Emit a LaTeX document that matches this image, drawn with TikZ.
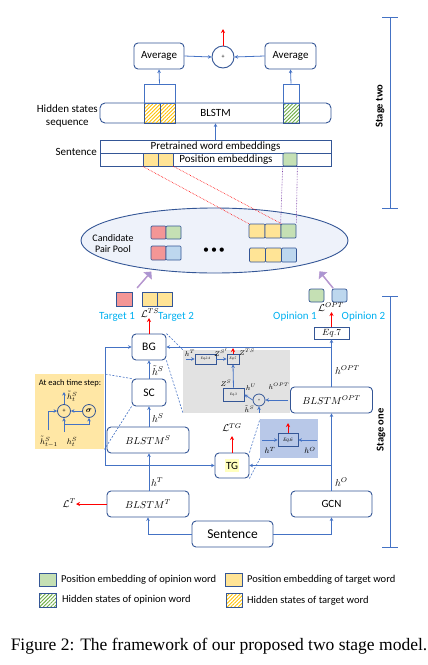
\documentclass[tikz,border=0pt]{standalone}
\usepackage{amsmath}
\usepackage{fontspec}
\setmainfont{Carlito}
\newfontfamily\capfont{Liberation Serif}
\usetikzlibrary{arrows.meta,patterns.meta,shapes.geometric,shapes.arrows}
\definecolor{bdr}{RGB}{52,86,150}
\definecolor{arr}{RGB}{68,114,196}
\definecolor{ylw}{RGB}{255,228,150}
\definecolor{grn}{RGB}{197,224,180}
\definecolor{pnk}{RGB}{244,150,150}
\definecolor{blc}{RGB}{189,215,238}
\definecolor{cyn}{RGB}{0,176,240}
\definecolor{gryb}{RGB}{226,226,226}
\definecolor{blb}{RGB}{184,200,232}
\definecolor{ylb}{RGB}{255,231,165}
\definecolor{hatY}{RGB}{255,192,0}
\definecolor{hatG}{RGB}{112,173,71}
\definecolor{purp}{RGB}{170,150,210}
\definecolor{purpd}{RGB}{112,48,160}
\definecolor{poolf}{RGB}{238,242,250}
\definecolor{tgf}{RGB}{255,255,190}
\begin{document}
\begin{tikzpicture}[x=1pt,y=-1pt,
  box/.style={draw=bdr,line width=0.9pt,rounded corners=4pt,fill=white,inner sep=0pt,font=\fontsize{11}{13}\selectfont},
  mbox/.style={box,font=\fontsize{10}{12}\selectfont},
  cellbase/.style={draw=bdr,line width=0.7pt,inner sep=0pt},
  ycell/.style={cellbase,fill=ylw},
  gcell/.style={cellbase,fill=grn},
  pcell/.style={cellbase,fill=pnk},
  bcell/.style={cellbase,fill=blc},
  hycell/.style={cellbase,pattern={Lines[angle=45,distance=2.6pt,line width=0.9pt]},pattern color=hatY},
  hgcell/.style={cellbase,pattern={Lines[angle=45,distance=2.6pt,line width=0.9pt]},pattern color=hatG},
  ar/.style={draw=arr,line width=0.8pt,-{Stealth[length=3.5pt,width=3.5pt]}},
  ln/.style={draw=arr,line width=0.8pt},
  rar/.style={draw=red,line width=1pt,-{Stealth[length=4pt,width=4pt]}},
  dsh/.style={draw=arr,line width=0.6pt,dash pattern=on 2pt off 1.5pt},
  lbl/.style={inner sep=0pt,font=\fontsize{10}{11}\selectfont},
  slbl/.style={inner sep=0pt,font=\fontsize{7.5}{8.5}\selectfont},
  eqb/.style={draw=bdr,line width=0.8pt,inner sep=0pt,font=\capfont\itshape\fontsize{3.5}{4}\selectfont},
  cyl/.style={inner sep=0pt,text=cyn,font=\fontsize{11}{13}\selectfont},
  fat/.style={single arrow,draw=purpd!50,fill=purp,line width=0.5pt,minimum height=21pt,minimum width=10pt,single arrow head extend=2.5pt,inner sep=0pt},
  stg/.style={inner sep=0pt,rotate=90,font=\bfseries\fontsize{10.5}{12}\selectfont},
  leg/.style={inner sep=0pt,anchor=west,font=\fontsize{10.5}{12}\selectfont}
]
\useasboundingbox (0,0) rectangle (428,665);

% ---------------- Stage two ----------------
\node[box,minimum width=50pt,minimum height=26pt] (avgL) at (159,56) {Average};
\node[box,minimum width=51pt,minimum height=26pt] (avgR) at (290.5,56) {Average};
\node[circle,draw=bdr,line width=0.9pt,minimum size=22pt,inner sep=0pt,fill=white,font=\fontsize{6}{7}\selectfont] (plus) at (223,57) {+};
\coordinate (plusTop) at (223,29);
\draw[rar] (plus.north) -- (plusTop);
\draw[ar] (avgL.east) -- (plus.west);
\draw[ar] (avgR.west) -- (plus.east);

\node[box,rounded corners=5pt,minimum width=231pt,minimum height=20pt] (blstm) at (215.5,113) {BLSTM};
\node[hycell,minimum width=16pt,minimum height=20pt] (hy1) at (152,113) {};
\node[hycell,minimum width=15pt,minimum height=20pt] (hy2) at (167.5,113) {};
\node[hgcell,minimum width=16pt,minimum height=20pt] (hg1) at (291,113) {};
\node[draw=arr,line width=0.8pt,minimum width=31pt,minimum height=19pt,inner sep=0pt] (brL) at (159.5,93.5) {};
\node[draw=arr,line width=0.8pt,minimum width=16pt,minimum height=19pt,inner sep=0pt] (brR) at (291,93.5) {};
\draw[ar] (brL.north) -- (avgL.south);
\draw[ar] (brR.north) -- (avgR.south);

\node[draw=bdr,line width=0.9pt,fill=white,minimum width=231pt,minimum height=13pt,inner sep=0pt,font=\fontsize{11}{13}\selectfont] (pwe) at (215.5,146.5) {Pretrained word embeddings};
\node[draw=bdr,line width=0.9pt,fill=white,minimum width=231pt,minimum height=13pt,inner sep=0pt] (pos) at (215.5,159.5) {};
\node[inner sep=0pt,font=\fontsize{11}{13}\selectfont] (posT) at (226,159.5) {Position embeddings};
\node[ycell,minimum width=15pt,minimum height=13pt] (py1) at (150.5,159.5) {};
\node[ycell,minimum width=15pt,minimum height=13pt] (py2) at (165.5,159.5) {};
\node[gcell,rounded corners=1pt,minimum width=14pt,minimum height=13pt] (pg1) at (290,159.5) {};
\draw[ar] (pwe.north) -- (blstm.south);

\node[inner sep=0pt,anchor=east,align=center,font=\fontsize{11}{13.5}\selectfont] (lhid) at (98,116) {Hidden states\\sequence};
\node[inner sep=0pt,anchor=east,font=\fontsize{11}{13}\selectfont] (lsen) at (97,152) {Sentence};

% stage brackets
\coordinate (s2a) at (390,17); \coordinate (s2b) at (390,208);
\draw[ln] (s2a) -- (s2b);
\draw[ln] (382,17) -- (398,17);
\draw[ln] (382,208) -- (398,208);
\node[stg] (stwo) at (380,106) {Stage two};
\coordinate (s1a) at (390,296); \coordinate (s1b) at (390,547);
\draw[ln] (s1a) -- (s1b);
\draw[ln] (382,296) -- (398,296);
\draw[ln] (382,547) -- (398,547);
\node[stg] (sone) at (381,430) {Stage one};

% ---------------- Candidate pool ----------------
\node[ellipse,draw=bdr,line width=0.9pt,fill=poolf,minimum width=267pt,minimum height=65pt,inner sep=0pt] (pool) at (214.5,240.5) {};
\node[inner sep=0pt,align=center,font=\fontsize{10}{11.5}\selectfont] (pooll) at (113,243.5) {Candidate\\Pair Pool};
\node[pcell,rounded corners=1pt,minimum width=15pt,minimum height=13pt] (c11) at (158.5,232.5) {};
\node[gcell,rounded corners=1pt,minimum width=15pt,minimum height=13pt] (c12) at (173.5,232.5) {};
\node[pcell,rounded corners=1pt,minimum width=15pt,minimum height=14pt] (c21) at (158.5,253) {};
\node[bcell,rounded corners=1pt,minimum width=15pt,minimum height=14pt] (c22) at (173.5,253) {};
\node[inner sep=0pt,font=\fontsize{12}{13}\selectfont] (dots) at (214,251) {•\,•\,•};
\node[ycell,rounded corners=1pt,minimum width=16pt,minimum height=14pt] (r11) at (257,231) {};
\node[ycell,rounded corners=1pt,minimum width=16pt,minimum height=14pt] (r12) at (273,231) {};
\node[gcell,rounded corners=1pt,minimum width=15pt,minimum height=14pt] (r13) at (288.5,231) {};
\node[ycell,rounded corners=1pt,minimum width=16pt,minimum height=14pt] (r21) at (257.5,255) {};
\node[ycell,rounded corners=1pt,minimum width=16pt,minimum height=14pt] (r22) at (273.5,255) {};
\node[bcell,rounded corners=1pt,minimum width=15pt,minimum height=14pt] (r23) at (289,255) {};

\draw[red,line width=0.6pt,densely dotted] (py1.south west) -- (r11.north west);
\draw[red,line width=0.6pt,densely dotted] (py2.south east) -- (r12.north east);
\draw[purpd,line width=0.6pt,densely dotted] (pg1.south west) -- (r13.north west);
\draw[purpd,line width=0.6pt,densely dotted] (pg1.south east) -- (r13.north east);

\node[fat,rotate=49] (fatL) at (144,280) {};
\node[fat,rotate=129] (fatR) at (326.5,280) {};

% ---------------- Stage one ----------------
\node[pcell,minimum width=16pt,minimum height=14pt] (t1) at (124,299) {};
\node[ycell,minimum width=15pt,minimum height=14pt] (t2) at (149.5,299) {};
\node[ycell,minimum width=15pt,minimum height=14pt] (t3) at (164.5,299) {};
\node[gcell,rounded corners=2pt,minimum width=15pt,minimum height=13pt] (o1) at (316.5,295.5) {};
\node[bcell,rounded corners=2pt,minimum width=15pt,minimum height=13pt] (o2) at (339.5,295.5) {};
\node[cyl] (ltg1) at (117,317) {Target 1};
\node[cyl] (ltg2) at (176,317) {Target 2};
\node[cyl] (lop1) at (295,317) {Opinion 1};
\node[cyl] (lop2) at (363.5,317) {Opinion 2};

% gray detail box
\node[fill=gryb,minimum width=107pt,minimum height=63pt,inner sep=0pt,anchor=north west] (gray) at (183,350) {};
% blue detail box
\node[fill=blb,minimum width=58pt,minimum height=39pt,inner sep=0pt,anchor=north west] (bluebox) at (260,419) {};
% yellow detail box
\node[fill=ylb,minimum width=69pt,minimum height=75pt,inner sep=0pt,anchor=north west] (ybox) at (35,374) {};

\node[box,minimum width=34pt,minimum height=26pt,font=\fontsize{11.5}{13}\selectfont] (BG) at (149,347) {BG};
\node[box,minimum width=34pt,minimum height=27pt,font=\fontsize{11.5}{13}\selectfont] (SC) at (149,392.5) {SC};
\node[mbox,minimum width=82pt,minimum height=26pt] (blS) at (148,440) {$BLSTM^{S}$};
\node[mbox,minimum width=82pt,minimum height=26pt] (blT) at (148,504) {$BLSTM^{T}$};
\node[box,minimum width=81pt,minimum height=26pt,font=\fontsize{13.5}{15}\selectfont] (sent) at (232.5,534) {Sentence};
\node[box,minimum width=81pt,minimum height=26pt] (gcn) at (331.5,504) {GCN};
\node[mbox,minimum width=82pt,minimum height=26pt] (blO) at (331.5,400) {$BLSTM^{OPT}$};
\node[draw=bdr,line width=0.9pt,fill=white,minimum width=35pt,minimum height=12pt,inner sep=0pt,font=\fontsize{9}{10}\selectfont] (eq7) at (331.5,333) {$Eq.7$};
\node[box,minimum width=34pt,minimum height=25pt] (TG) at (232,465.5) {\colorbox{tgf}{\hspace{-2pt}TG\hspace{-2pt}}};

% main connectors
\draw[ar] (SC.north) -- (BG.south);
\draw[ar] (blS.north -| SC.south) -- (SC.south);
\coordinate (jT) at (149,465.5);
\draw[ar] (blT.north -| SC.south) -- (blS.south -| SC.south);
\coordinate (lc1) at (105,465.5);
\coordinate (lc2) at (105,347);
\draw[ar] (jT) -- (TG.west);
\draw[ar] (jT) -- (lc1) -- (lc2) -- (BG.west);
\draw[ar] (sent.west) -| (blT.south);
\draw[ar] (sent.east) -| (gcn.south);
\draw[ar] (gcn.north) -- (blO.south);
\coordinate (jO) at (331.5,465.5);
\draw[ar] (jO) -- (TG.east);
\draw[ar] (blO.north) -- (eq7.south);
\coordinate (jP) at (331.5,347);
\draw[ar] (jP) -- (BG.east);

\coordinate (lts) at (149,318);
\draw[rar] (BG.north) -- (lts);
\coordinate (lopt) at (331.5,312);
\draw[rar] (eq7.north) -- (lopt);
\coordinate (ltgc) at (232,436);
\draw[rar] (TG.north) -- (ltgc);
\coordinate (lT) at (76,504);
\draw[rar] (blT.west) -- (lT);

\node[lbl] (Lts) at (150,313) {$\mathcal{L}^{TS}$};
\node[lbl] (Lopt) at (331,307) {$\mathcal{L}^{OPT}$};
\node[lbl] (Ltg) at (232,427.5) {$\mathcal{L}^{TG}$};
\node[lbl,anchor=east] (LT) at (76,503) {$\mathcal{L}^{T}$};
\node[lbl,anchor=west] (lhs1) at (152,370.5) {$\tilde{h}^{S}$};
\node[lbl,anchor=west] (lhs2) at (152,418) {$h^{S}$};
\node[lbl,anchor=west] (lht) at (151,482) {$h^{T}$};
\node[lbl,anchor=west] (lho) at (335,482) {$h^{O}$};
\node[lbl,anchor=west] (lhopt) at (335,370) {$h^{OPT}$};

% dashed zoom lines
\draw[dsh] (BG.north east) -- (gray.north west);
\draw[dsh] (BG.south east) -- (gray.south west);
\draw[dsh] (SC.north west) -- (ybox.north east);
\draw[dsh] (SC.south west) -- (ybox.south east);
\draw[dsh] (TG.north east) -- (bluebox.north west);
\draw[dsh] (TG.south east) -- (bluebox.south west);

% gray box contents
\node[eqb,minimum width=21pt,minimum height=10pt] (eq24) at (205.5,359) {Eq.2.4};
\node[eqb,minimum width=12pt,minimum height=10pt] (eq5) at (233,359) {Eq.5};
\node[eqb,minimum width=21pt,minimum height=13pt] (eq3) at (233.5,394.5) {Eq.3};
\node[circle,draw=bdr,line width=0.8pt,minimum size=12pt,inner sep=0pt,font=\fontsize{4}{5}\selectfont] (pl2) at (259,400) {+};
\coordinate (ghT) at (186,359);
\draw[ar] (ghT) -- (eq24.west);
\draw[ar] (eq24.east) -- (eq5.west);
\coordinate (gzts) at (233,348);
\draw[rar,line width=0.8pt] (eq5.north) -- (gzts);
\draw[ar] (eq3.north) -- (eq5.south);
\draw[ar] (pl2.west) -- (eq3.east);
\coordinate (ghopt) at (288,400);
\draw[ar] (ghopt) -- (pl2.east);
\coordinate (ghs) at (259,413);
\draw[ar] (ghs) -- (pl2.south);
\node[slbl] (g1) at (190,353) {$h^{T}$};
\node[slbl] (g2) at (221,353) {$Z^{S'}$};
\node[slbl] (g3) at (247,352.5) {$Z^{TS}$};
\node[slbl] (g4) at (226,383) {$Z^{S}$};
\node[slbl] (g5) at (251,387) {$h^{U}$};
\node[slbl] (g6) at (279,386) {$h^{OPT}$};
\node[slbl,anchor=east] (g7) at (254.5,409.5) {$\tilde{h}^{S}$};

% blue box contents
\node[eqb,minimum width=20pt,minimum height=13pt,font=\capfont\itshape\fontsize{5}{6}\selectfont] (eq6) at (288,440) {Eq.6};
\coordinate (b6t) at (288,423);
\draw[rar,line width=0.8pt] (eq6.north) -- (b6t);
\coordinate (b6l) at (262,440);
\coordinate (b6r) at (317,440);
\draw[ar] (b6l) -- (eq6.west);
\draw[ar] (b6r) -- (eq6.east);
\node[slbl,font=\fontsize{8}{9}\selectfont] (b1) at (270,450.5) {$h^{T}$};
\node[slbl,font=\fontsize{8}{9}\selectfont] (b2) at (310,450.5) {$h^{O}$};

% yellow box contents
\node[inner sep=0pt,font=\fontsize{8.5}{10}\selectfont] (ytitle) at (70,383.5) {At each time step:};
\node[circle,draw=bdr,line width=0.8pt,minimum size=13pt,inner sep=0pt,font=\fontsize{6}{7}\selectfont] (ypl) at (64,411) {+};
\node[circle,draw=bdr,line width=0.8pt,minimum size=13pt,inner sep=0pt,font=\fontsize{8}{9}\selectfont] (ysig) at (89,411) {$\boldsymbol{\sigma}$};
\draw[ar] (ysig.west) -- (ypl.east);
\coordinate (yout) at (64,392);
\draw[ar] (ypl.north) -- (yout);
\coordinate (yl0) at (48,430);
\coordinate (yl1) at (48,411);
\draw[ar] (yl0) -- (yl1) -- (ypl.west);
\coordinate (yh0) at (64,432);
\draw[ar] (yh0) -- (ypl.south);
\coordinate (yb) at (64,424);
\draw[ar] (yb) -| (ysig.south);
\node[slbl,font=\fontsize{8}{9}\selectfont,anchor=west] (y1) at (67,396.5) {$\tilde{h}_t^{S}$};
\node[slbl,font=\fontsize{8}{9}\selectfont] (y2) at (49,442) {$\tilde{h}_{t-1}^{S}$};
\node[slbl,font=\fontsize{8}{9}\selectfont] (y3) at (72,442) {$h_t^{S}$};

% ---------------- Legend ----------------
\node[gcell,minimum width=17pt,minimum height=13pt] (lg1) at (47.5,579.5) {};
\node[leg] (lg1t) at (61,579.5) {Position embedding of opinion word};
\node[ycell,minimum width=17pt,minimum height=13pt] (lg2) at (233.5,579.5) {};
\node[leg] (lg2t) at (247,579.5) {Position embedding of target word};
\node[hgcell,minimum width=17pt,minimum height=14pt] (lg3) at (47.5,600) {};
\node[leg] (lg3t) at (62,599.5) {Hidden states of opinion word};
\node[hycell,minimum width=16pt,minimum height=14pt] (lg4) at (234,600) {};
\node[leg] (lg4t) at (247,601) {Hidden states of target word};

\node[inner sep=0pt,font=\capfont\fontsize{17.5}{19}\selectfont] (cap) at (219,646) {Figure 2: The framework of our proposed two stage model.};
\end{tikzpicture}
\end{document}
